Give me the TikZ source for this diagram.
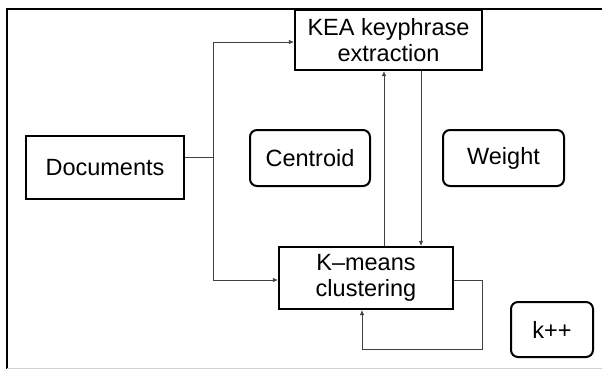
\documentclass[tikz,border=0pt]{standalone}
\usepackage{fontspec}
\setmainfont{Liberation Sans}
\usetikzlibrary{arrows.meta}
\begin{document}
\begin{tikzpicture}[x=1pt,y=-1pt,
  sqbox/.style={draw=black,line width=2.2pt,fill=white,inner sep=0pt,align=center,font=\fontsize{23.5}{26}\selectfont},
  rdbox/.style={sqbox,line width=2pt,rounded corners=7pt},
  conn/.style={draw=black!75,line width=0.7pt},
  arr/.style={conn,-{Latex[length=5pt,width=4.5pt]}}]
\useasboundingbox (0,0) rectangle (602,369);
% outer frame
\draw[line width=2pt] (602,9) -- (6.5,9) -- (6.5,369);
\draw[black!18,line width=1pt] (6.5,368) -- (602,368);
% nodes
\node[sqbox,minimum width=187pt,minimum height=60pt] (kea) at (388.5,40) {KEA keyphrase\\extraction};
\node[sqbox,minimum width=158pt,minimum height=63pt] (doc) at (105,167.5) {Documents};
\node[rdbox,minimum width=120pt,minimum height=56pt] (cen) at (310,158) {Centroid};
\node[rdbox,minimum width=121pt,minimum height=56pt] (wei) at (503.5,158) {Weight};
\node[sqbox,minimum width=174pt,minimum height=62pt] (km) at (366,278) {K--means\\clustering};
\node[rdbox,minimum width=82pt,minimum height=55pt] (kpp) at (552,329.5) {k++};
% connectors
\coordinate (j) at (213,157);
\draw[conn] (doc.east |- j) -- (j);
\draw[arr] (j) |- (kea.west |- 0,42);
\draw[arr] (j) |- (km.west |- 0,280);
\draw[arr] (km.north -| 384,0) -- (kea.south -| 384,0);
\draw[arr] (kea.south -| 421,0) -- (km.north -| 421,0);
\coordinate (l1) at (482,349);
\draw[arr] (km.east |- 0,280) -| (l1) -| (km.south -| 362,0);
\end{tikzpicture}
\end{document}
